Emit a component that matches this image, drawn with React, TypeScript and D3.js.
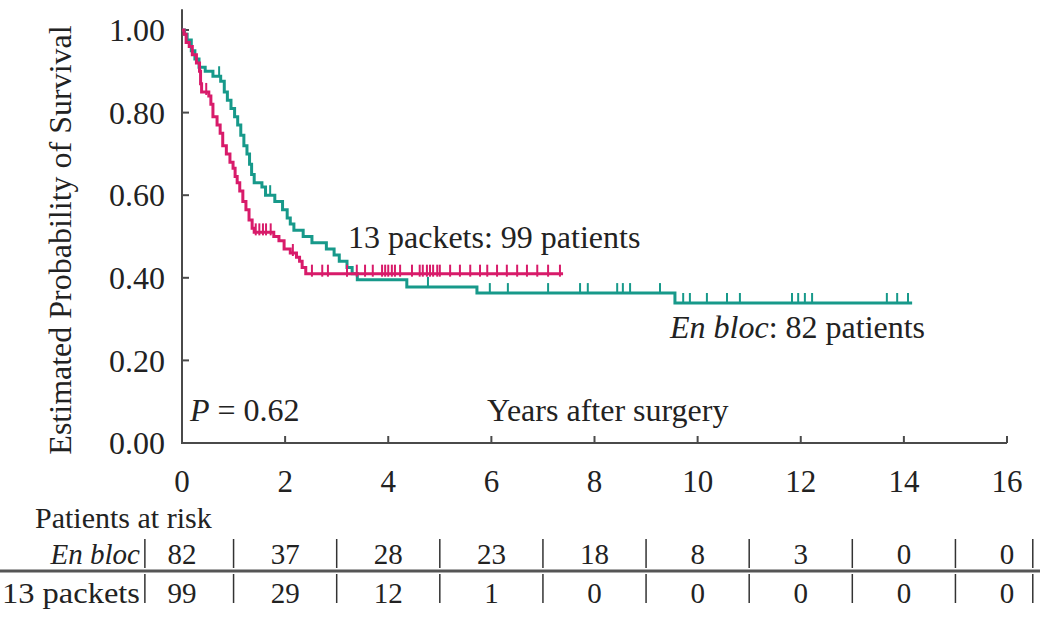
import * as d3 from "d3";

// Kaplan-Meier steps: [years, survival after the drop]
const enBlocSteps: [number, number][] = [
  [0.05, 0.99], [0.1, 0.976], [0.18, 0.95], [0.25, 0.93], [0.33, 0.91],
  [0.45, 0.9], [0.6, 0.888], [0.75, 0.876], [0.82, 0.85], [0.88, 0.83],
  [0.95, 0.81], [1.02, 0.79], [1.08, 0.77], [1.14, 0.745], [1.2, 0.72],
  [1.26, 0.7], [1.31, 0.675], [1.35, 0.65], [1.4, 0.63], [1.55, 0.62],
  [1.62, 0.6], [1.8, 0.585], [1.95, 0.565], [2.04, 0.545], [2.1, 0.53],
  [2.17, 0.515], [2.35, 0.5], [2.52, 0.485], [2.8, 0.47], [2.95, 0.455],
  [3.05, 0.44], [3.2, 0.425], [3.3, 0.41], [3.4, 0.395], [4.36, 0.378],
  [5.72, 0.363], [9.56, 0.339],
];
const enBlocEnd = 14.16;
const enBlocCensored = [
  0.72, 1.71, 4.77, 5.97, 6.32, 7.1, 7.72, 7.87, 8.44, 8.55, 8.69, 9.27,
  9.72, 9.85, 10.18, 10.57, 10.82, 11.83, 11.95, 12.08, 12.22, 13.67, 13.87,
  14.08,
];

const packetSteps: [number, number][] = [
  [0.04, 0.99], [0.08, 0.97], [0.14, 0.96], [0.2, 0.94], [0.28, 0.92],
  [0.34, 0.9], [0.36, 0.87], [0.38, 0.85], [0.52, 0.84], [0.56, 0.82],
  [0.6, 0.79], [0.68, 0.77], [0.74, 0.75], [0.79, 0.72], [0.86, 0.7],
  [0.93, 0.68], [0.99, 0.665], [1.03, 0.645], [1.07, 0.63], [1.12, 0.61],
  [1.18, 0.585], [1.24, 0.565], [1.3, 0.54], [1.36, 0.52], [1.4, 0.51],
  [1.78, 0.5], [1.88, 0.49], [1.98, 0.47], [2.1, 0.46], [2.22, 0.45],
  [2.28, 0.44], [2.33, 0.425], [2.4, 0.41],
];
const packetEnd = 7.39;
const packetCensored = [
  0.47, 1.43, 1.5, 1.57, 1.63, 1.72, 2.15, 2.52, 2.72, 2.83, 3.2, 3.39, 3.55,
  3.7, 3.88, 3.94, 4.0, 4.07, 4.13, 4.23, 4.46, 4.61, 4.67, 4.75, 4.81, 4.87,
  4.95, 5.0, 5.2, 5.39, 5.59, 5.78, 5.92, 6.11, 6.3, 6.5, 6.69, 6.89, 7.1,
  7.33,
];

const xTicks = [0, 2, 4, 6, 8, 10, 12, 14, 16];
const yTicks = [0, 0.2, 0.4, 0.6, 0.8, 1.0];
const riskTimes = [0, 2, 4, 6, 8, 10, 12, 14, 16];
const enBlocRisk = [82, 37, 28, 23, 18, 8, 3, 0, 0];
const packetRisk = [99, 29, 12, 1, 0, 0, 0, 0, 0];
const separatorYears = [-0.72, 1, 3, 5, 7, 9, 11, 13, 15, 16.5];

const GREEN = "#17998a";
const PINK = "#d81b6a";
const AXIS = "#4a4a4a";
const INK = "#222";
const FONT = "'Liberation Serif', 'DejaVu Serif', serif";
const FS = 32;
const TICK_FS = 31;
const TABLE_FS = 29;

const x = d3.scaleLinear().domain([0, 16]).range([182, 1007]);
const y = d3.scaleLinear().domain([0, 1]).range([443, 30]);

function survAt(steps: [number, number][], t: number) {
  let s = 1;
  for (const [st, sv] of steps) if (st <= t) s = sv;
  return s;
}

function curvePath(steps: [number, number][], end: number) {
  const pts: [number, number][] = [[0, 1], ...steps, [end, steps[steps.length - 1][1]]];
  return d3
    .line<[number, number]>()
    .x((d) => x(d[0]))
    .y((d) => y(d[1]))
    .curve(d3.curveStepAfter)(pts) as string;
}

export default function App() {
  return (
    <div style={{ position: "absolute", left: 0, top: 0 }}>
      <svg width={1050} height={620} style={{ display: "block", fontFamily: FONT }}>
        <rect width={1050} height={620} fill="#fff" />

        {/* axes */}
        <line x1={x(0)} x2={x(0)} y1={y(1.05)} y2={y(0)} stroke={AXIS} strokeWidth={2} />
        <line x1={x(0) - 1} x2={x(16)} y1={y(0)} y2={y(0)} stroke={AXIS} strokeWidth={2} />
        {yTicks.map((t) => (
          <g key={t}>
            <line x1={x(0)} x2={x(0) + 7} y1={y(t)} y2={y(t)} stroke={AXIS} strokeWidth={2} />
            <text x={165} y={y(t)} dy="0.35em" textAnchor="end" fontSize={FS} fill={INK}>
              {t.toFixed(2)}
            </text>
          </g>
        ))}
        {xTicks.map((t) => (
          <g key={t}>
            <line x1={x(t)} x2={x(t)} y1={y(0)} y2={y(0) - 7} stroke={AXIS} strokeWidth={2} />
            <text x={x(t)} y={481} dy="0.35em" textAnchor="middle" fontSize={TICK_FS} fill={INK}>
              {t}
            </text>
          </g>
        ))}
        <text
          transform={`translate(60,240) rotate(-90)`}
          textAnchor="middle"
          dy="0.35em"
          fontSize={FS}
          fill={INK}
        >
          Estimated Probability of Survival
        </text>

        {/* curves */}
        <path d={curvePath(enBlocSteps, enBlocEnd)} fill="none" stroke={GREEN} strokeWidth={3} />
        {enBlocCensored.map((t, i) => {
          const cy = y(survAt(enBlocSteps, t));
          return <line key={i} x1={x(t)} x2={x(t)} y1={cy} y2={cy - 10} stroke={GREEN} strokeWidth={2} />;
        })}
        <path d={curvePath(packetSteps, packetEnd)} fill="none" stroke={PINK} strokeWidth={3} />
        {packetCensored.map((t, i) => {
          const cy = y(survAt(packetSteps, t));
          return <line key={i} x1={x(t)} x2={x(t)} y1={cy + 3} y2={cy - 9} stroke={PINK} strokeWidth={2} />;
        })}

        {/* annotations */}
        <text x={348} y={237} dy="0.35em" fontSize={FS} fill={INK}>
          13 packets: 99 patients
        </text>
        <text x={670} y={327} dy="0.35em" fontSize={FS} fill={INK}>
          <tspan fontStyle="italic">En bloc</tspan>: 82 patients
        </text>
        <text x={190} y={410} dy="0.35em" fontSize={FS} fill={INK}>
          <tspan fontStyle="italic">P</tspan> = 0.62
        </text>
        <text x={487} y={410} dy="0.35em" fontSize={FS} fill={INK}>
          Years after surgery
        </text>

        {/* number at risk table */}
        <text x={35} y={517} dy="0.35em" fontSize={30} fill={INK}>
          Patients at risk
        </text>
        <text x={140} y={554} dy="0.35em" textAnchor="end" fontSize={TABLE_FS} fontStyle="italic" fill={INK}>
          En bloc
        </text>
        <text
          x={2}
          y={593}
          dy="0.35em"
          fontSize={TABLE_FS}
          textLength={138}
          lengthAdjust="spacingAndGlyphs"
          fill={INK}
        >
          13 packets
        </text>
        <line x1={0} x2={1040} y1={571} y2={571} stroke="#555" strokeWidth={3} />
        {separatorYears.map((s) => (
          <g key={s}>
            <line x1={x(s)} x2={x(s)} y1={539} y2={568} stroke="#333" strokeWidth={1.5} />
            <line x1={x(s)} x2={x(s)} y1={574} y2={603} stroke="#333" strokeWidth={1.5} />
          </g>
        ))}
        {riskTimes.map((t, i) => (
          <g key={t}>
            <text x={x(t)} y={554} dy="0.35em" textAnchor="middle" fontSize={TABLE_FS} fill={INK}>
              {enBlocRisk[i]}
            </text>
            <text x={x(t)} y={593} dy="0.35em" textAnchor="middle" fontSize={TABLE_FS} fill={INK}>
              {packetRisk[i]}
            </text>
          </g>
        ))}
      </svg>
    </div>
  );
}
